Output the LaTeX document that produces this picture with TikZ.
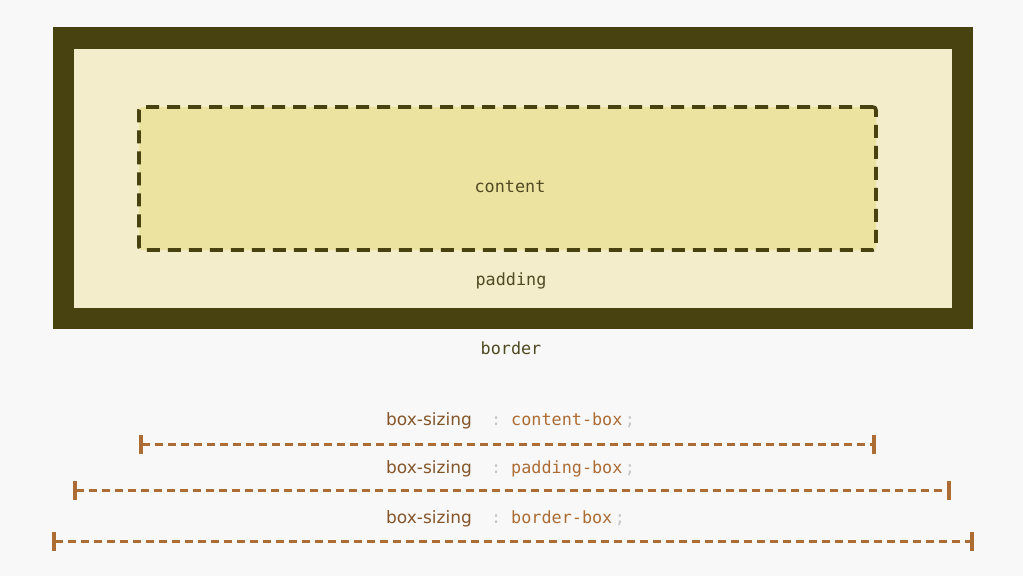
\documentclass[tikz,border=0pt]{standalone}
\usepackage{fontspec}
\setmainfont{DejaVu Sans}
\setmonofont{DejaVu Sans Mono}
\usetikzlibrary{arrows.meta}
\definecolor{bg}{HTML}{F8F8F8}
\definecolor{bordercol}{HTML}{474210}
\definecolor{padcol}{HTML}{F3EDCB}
\definecolor{contcol}{HTML}{EDE3A0}
\definecolor{labcol}{HTML}{4F4A22}
\definecolor{propcol}{HTML}{85552A}
\definecolor{valcol}{HTML}{AD6C34}
\definecolor{puncol}{HTML}{C4C4C4}
\tikzset{
  boxlab/.style={font=\ttfamily\fontsize{16.8}{18}\selectfont, text=labcol, inner sep=0pt},
  rulelab/.style={inner sep=0pt, anchor=base west},
  measure/.style={draw=valcol, line width=3pt, dash pattern=on 8pt off 5pt,
    {Bar[width=19pt,line width=3.2pt]}-{Bar[width=19pt,line width=3.2pt]}, shorten <=-1.6pt, shorten >=-1.6pt}
}
\begin{document}
\begin{tikzpicture}[x=1pt,y=-1pt]
\fill[bg] (0,0) rectangle (1023,576);
\useasboundingbox (0,0) rectangle (1023,576);
\node[fill=bordercol, minimum width=920pt, minimum height=302pt, inner sep=0pt] (borderbox) at (513,178) {};
\node[fill=padcol, minimum width=878pt, minimum height=259pt, inner sep=0pt] (padbox) at (513,178.5) {};
\node[fill=contcol, draw=bordercol, line width=3.6pt, dash pattern=on 13pt off 8pt, rounded corners=3pt,
  minimum width=737pt, minimum height=143pt, inner sep=0pt] (contbox) at (507.5,178.5) {};
\node[boxlab] (tcontent) at (510,187) {content};
\node[boxlab] (tpadding) at (511,281) {padding};
\node[boxlab] (tborder) at (511,348) {border};

\foreach \y/\v/\n in {425/content-box/a, 473/padding-box/b, 523/border-box/c}{
  \node[rulelab, text=propcol, font=\fontsize{17}{20}\selectfont] (p\n) at (386,\y) {box-sizing};
  \node[rulelab, text=puncol, font=\ttfamily\fontsize{16.8}{20}\selectfont] (c\n) at (491,\y) {:};
  \node[rulelab, text=valcol, font=\ttfamily\fontsize{16.8}{20}\selectfont] (v\n) at (511,\y) {\v};
  \node[rulelab, text=puncol, font=\ttfamily\fontsize{16.8}{20}\selectfont, xshift=2pt] (s\n) at (v\n.base east) {;};
}
\coordinate (la) at (141,444); \coordinate (ra) at (874,444);
\coordinate (lb) at (75,490);  \coordinate (rb) at (949,490);
\coordinate (lc) at (54,541);  \coordinate (rc) at (972,541);
\draw[measure] (la) -- (ra);
\draw[measure] (lb) -- (rb);
\draw[measure] (lc) -- (rc);
\end{tikzpicture}
\end{document}
